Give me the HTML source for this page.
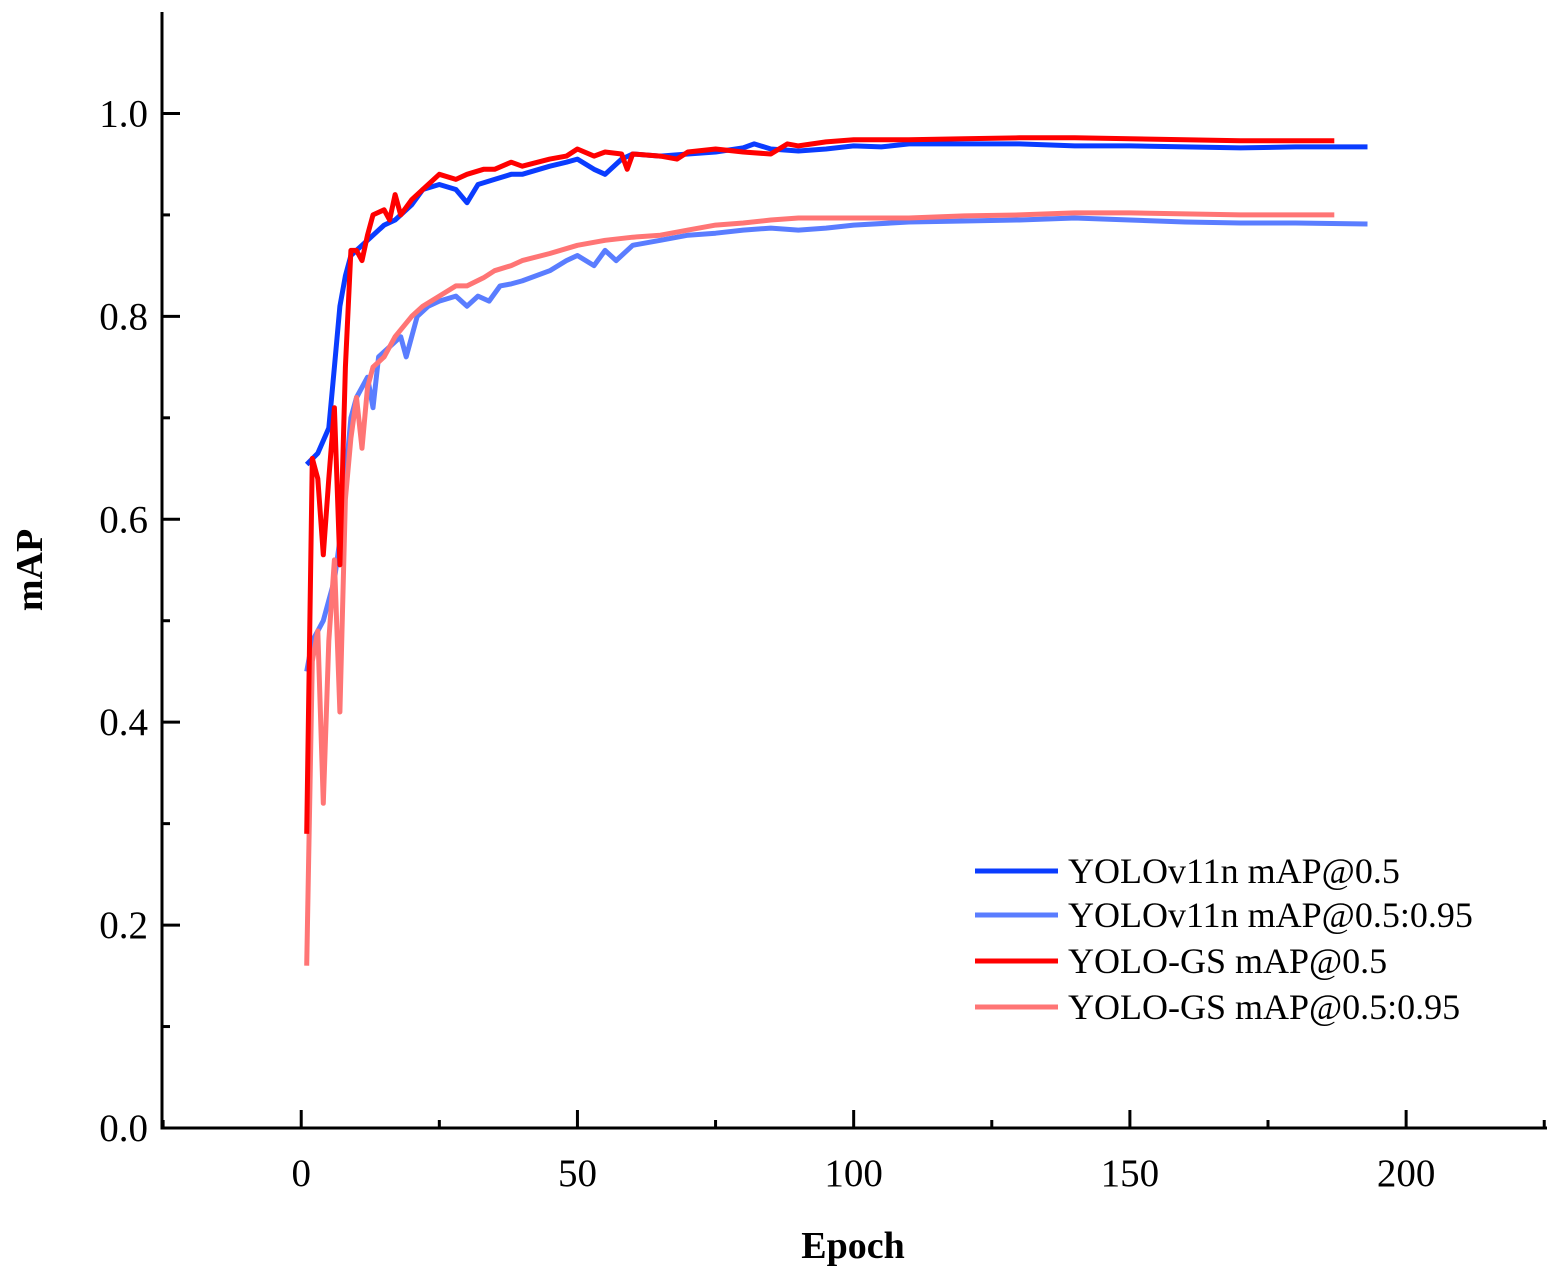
<!DOCTYPE html>
<html><head><meta charset="utf-8"><style>
html,body{margin:0;padding:0;background:#fff;}
svg{display:block;font-family:"Liberation Serif",serif;}
</style></head><body>
<svg id="chart" width="1560" height="1278" viewBox="0 0 1560 1278" xmlns="http://www.w3.org/2000/svg"></svg>
<script>
const xTicks=[0,50,100,150,200];
const yTicks=[0.0,0.2,0.4,0.6,0.8,1.0];
const yTickLabels=["0.0","0.2","0.4","0.6","0.8","1.0"];
const seriesNames=["YOLOv11n mAP@0.5","YOLOv11n mAP@0.5:0.95","YOLO-GS mAP@0.5","YOLO-GS mAP@0.5:0.95"];
const v11Map50Epochs=[1,3,5,6,7,8,9,10,12,15,17,20,22,25,28,30,32,35,38,40,45,48,50,53,55,58,60,65,70,75,80,82,85,90,95,100,105,110,120,130,140,150,160,170,180,193];
const v11Map50=[0.654,0.665,0.69,0.75,0.81,0.84,0.86,0.865,0.875,0.89,0.895,0.91,0.925,0.93,0.925,0.912,0.93,0.935,0.94,0.94,0.948,0.952,0.955,0.945,0.94,0.955,0.96,0.958,0.96,0.962,0.966,0.97,0.965,0.963,0.965,0.968,0.967,0.97,0.97,0.97,0.968,0.968,0.967,0.966,0.967,0.967];
const v11Map95Epochs=[1,2,3,4,5,6,7,8,9,10,12,13,14,16,18,19,21,23,25,28,30,32,34,36,38,40,45,48,50,53,55,57,60,65,70,75,80,85,90,95,100,110,120,130,140,150,160,170,180,193];
const v11Map95=[0.45,0.48,0.49,0.5,0.52,0.54,0.58,0.64,0.7,0.72,0.74,0.71,0.76,0.77,0.78,0.76,0.8,0.81,0.815,0.82,0.81,0.82,0.815,0.83,0.832,0.835,0.845,0.855,0.86,0.85,0.865,0.855,0.87,0.875,0.88,0.882,0.885,0.887,0.885,0.887,0.89,0.893,0.894,0.895,0.897,0.895,0.893,0.892,0.892,0.891];
const gsMap50Epochs=[1,2,3,4,5,6,7,8,9,10,11,12,13,15,16,17,18,20,22,25,28,30,33,35,38,40,45,48,50,53,55,58,59,60,65,68,70,75,80,85,88,90,95,100,110,120,130,140,150,160,170,187];
const gsMap50=[0.29,0.66,0.64,0.565,0.64,0.71,0.555,0.75,0.865,0.865,0.855,0.88,0.9,0.905,0.895,0.92,0.9,0.915,0.925,0.94,0.935,0.94,0.945,0.945,0.952,0.948,0.955,0.958,0.965,0.958,0.962,0.96,0.945,0.96,0.958,0.955,0.962,0.965,0.962,0.96,0.97,0.968,0.972,0.974,0.974,0.975,0.976,0.976,0.975,0.974,0.973,0.973];
const gsMap95Epochs=[1,2,3,4,5,6,7,8,9,10,11,12,13,15,17,20,22,25,28,30,33,35,38,40,45,50,55,60,65,70,75,80,85,90,95,100,110,120,130,140,150,160,170,187];
const gsMap95=[0.16,0.46,0.49,0.32,0.48,0.56,0.41,0.62,0.68,0.72,0.67,0.73,0.75,0.76,0.78,0.8,0.81,0.82,0.83,0.83,0.838,0.845,0.85,0.855,0.862,0.87,0.875,0.878,0.88,0.885,0.89,0.892,0.895,0.897,0.897,0.897,0.897,0.899,0.9,0.902,0.902,0.901,0.9,0.9];

const svg=document.getElementById('chart');
const NS='http://www.w3.org/2000/svg';
const L=162,R=1547,T=12,B=1128;
const xMin=-25.2,xMax=225.5,yMin=0,yMax=1.1;
function xs(v){return L+(v-xMin)/(xMax-xMin)*(R-L);}
function ys(v){return B-(v-yMin)/(yMax-yMin)*(B-T);}
function mk(tag,attrs){const e=document.createElementNS(NS,tag);for(const k in attrs)e.setAttribute(k,attrs[k]);svg.appendChild(e);return e;}

const colors=["#0a3cff","#5a7dff","#ff0000","#ff7575"];
const data=[[v11Map50Epochs,v11Map50],[v11Map95Epochs,v11Map95],[gsMap50Epochs,gsMap50],[gsMap95Epochs,gsMap95]];
const names=["line-yolov11n-map50","line-yolov11n-map50-95","line-yolo-gs-map50","line-yolo-gs-map50-95"];
const order=[1,3,0,2];
order.forEach(i=>{
  const [ex,vy]=data[i];
  const d=ex.map((e,j)=>(j?'L':'M')+xs(e).toFixed(1)+','+ys(vy[j]).toFixed(1)).join(' ');
  const p=mk('path',{d:d,fill:'none',stroke:colors[i],'stroke-width':5,'stroke-linejoin':'round'});
  
  
});

const ax=mk('path',{d:`M${L},${T} L${L},${B} L${R},${B}`,fill:'none',stroke:'#000','stroke-width':3});


for(let v=-25;v<=225;v+=25){
  if(v<xMin||v>xMax)continue;
  const major=v%50===0;
  const t=mk('line',{x1:xs(v),x2:xs(v),y1:B,y2:B-(major?18:8),stroke:'#000','stroke-width':3});
  
  
}
xTicks.forEach(v=>{
  const t=mk('text',{x:xs(v),y:B+58,'text-anchor':'middle','font-size':39});
  t.textContent=String(v);
  
  
});
for(let k=0;k<=10;k++){
  const v=k/10;const major=k%2===0;
  const t=mk('line',{x1:L,x2:L+(major?18:8),y1:ys(v),y2:ys(v),stroke:'#000','stroke-width':3});
  
  
}
yTicks.forEach((v,i)=>{
  const t=mk('text',{x:L-14,y:ys(v)+13,'text-anchor':'end','font-size':39});
  t.textContent=yTickLabels[i];
  
  
});
const xt=mk('text',{x:853,y:1258,'text-anchor':'middle','font-size':38,'font-weight':'bold'});
xt.textContent='Epoch';


const yt=mk('text',{x:0,y:0,'text-anchor':'middle','font-size':38,'font-weight':'bold',transform:'translate(42,570) rotate(-90)'});
yt.textContent='mAP';



const ly=[871,915,961,1007];
seriesNames.forEach((n,i)=>{
  const l=mk('line',{x1:975,x2:1058,y1:ly[i],y2:ly[i],stroke:colors[i],'stroke-width':5});
  
  
  const t=mk('text',{x:1068,y:ly[i]+12,'font-size':36});
  t.textContent=n;
  
  
});
</script>
</body></html>
